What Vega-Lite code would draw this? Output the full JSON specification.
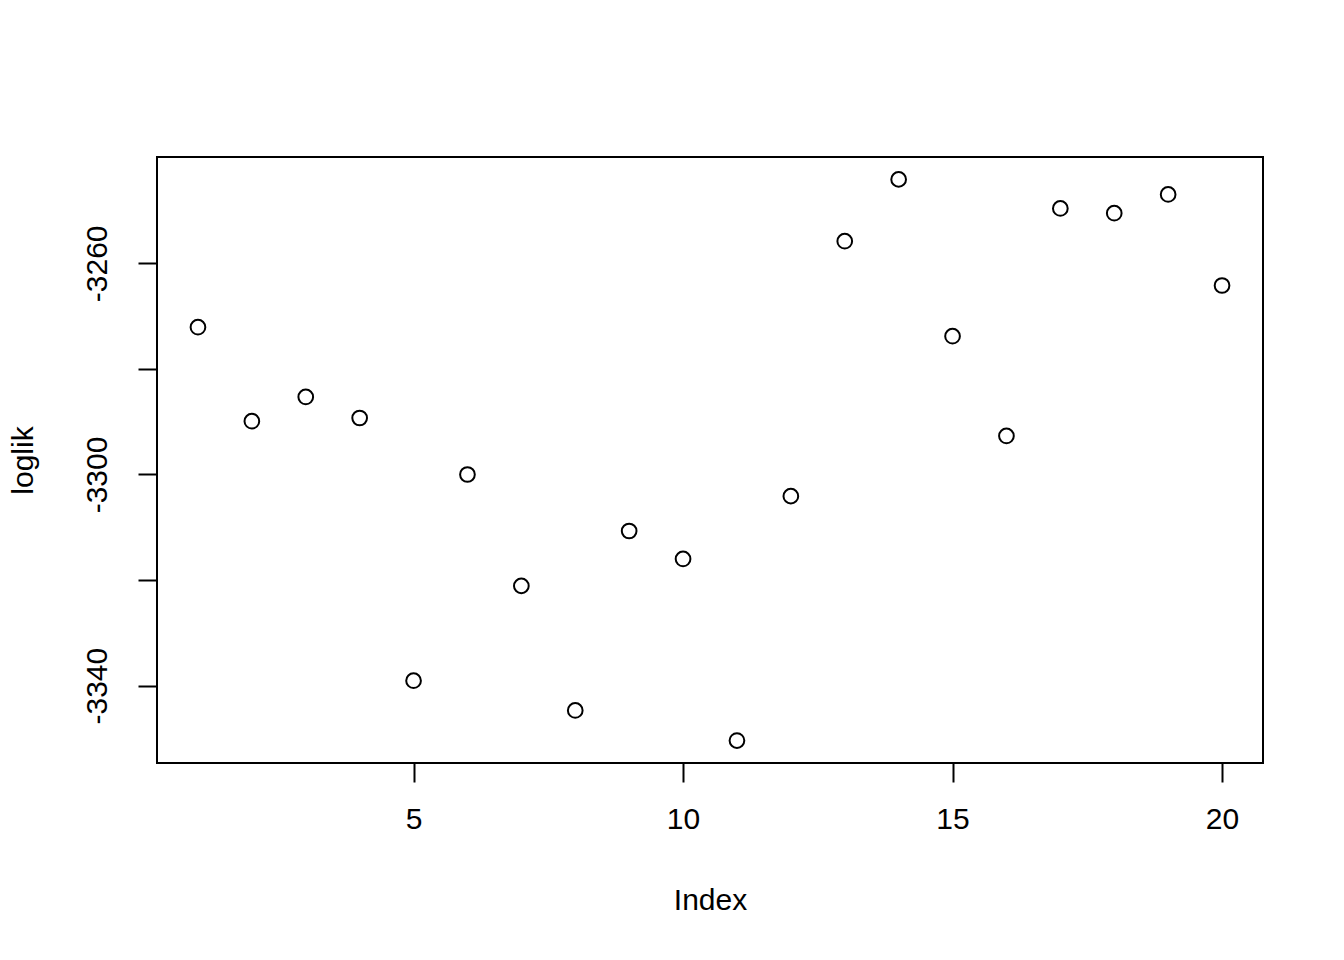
{
  "$schema": "https://vega.github.io/schema/vega-lite/v6.json",
  "autosize": "none",
  "width": 1106,
  "height": 606,
  "padding": {"left": 157, "top": 157, "right": 81, "bottom": 197},
  "background": "white",
  "config": {
    "view": {"stroke": "black", "strokeWidth": 2},
    "font": "Liberation Sans",
    "axis": {
      "domain": false,
      "grid": false,
      "ticks": true,
      "tickColor": "black",
      "tickWidth": 2,
      "tickSize": 19,
      "labelFont": "Liberation Sans",
      "labelFontSize": 30,
      "labelColor": "black",
      "titleFont": "Liberation Sans",
      "titleFontSize": 30,
      "titleFontWeight": "normal",
      "titleColor": "black"
    }
  },
  "data": {
    "values": [
      {"Index": 1, "loglik": -3272.1},
      {"Index": 2, "loglik": -3289.9},
      {"Index": 3, "loglik": -3285.3},
      {"Index": 4, "loglik": -3289.3},
      {"Index": 5, "loglik": -3339.05},
      {"Index": 6, "loglik": -3300.0},
      {"Index": 7, "loglik": -3321.1},
      {"Index": 8, "loglik": -3344.7},
      {"Index": 9, "loglik": -3310.7},
      {"Index": 10, "loglik": -3316.0},
      {"Index": 11, "loglik": -3350.4},
      {"Index": 12, "loglik": -3304.1},
      {"Index": 13, "loglik": -3255.8},
      {"Index": 14, "loglik": -3244.1},
      {"Index": 15, "loglik": -3273.8},
      {"Index": 16, "loglik": -3292.7},
      {"Index": 17, "loglik": -3249.6},
      {"Index": 18, "loglik": -3250.5},
      {"Index": 19, "loglik": -3246.95},
      {"Index": 20, "loglik": -3264.2}
    ]
  },
  "mark": {"type": "point", "shape": "circle", "filled": false, "stroke": "black", "strokeWidth": 2, "size": 216, "opacity": 1},
  "encoding": {
    "x": {
      "field": "Index",
      "type": "quantitative",
      "scale": {"domain": [0.24, 20.76], "nice": false, "zero": false},
      "axis": {
        "values": [5, 10, 15, 20],
        "labelPadding": 22,
        "title": "Index",
        "titleBaseline": "middle",
        "titleY": 137,
        "titleX": 553
      }
    },
    "y": {
      "field": "loglik",
      "type": "quantitative",
      "scale": {"domain": [-3354.65, -3239.86], "nice": false, "zero": false},
      "axis": {
        "values": [-3340, -3320, -3300, -3280, -3260],
        "labelExpr": "(datum.value + 3260) % 40 == 0 ? toString(datum.value) : ''",
        "labelAngle": -90,
        "labelAlign": "center",
        "labelBaseline": "bottom",
        "labelPadding": 26,
        "title": "loglik",
        "titleAngle": -90,
        "titleBaseline": "middle",
        "titleAlign": "center",
        "titleX": -134,
        "titleY": 303
      }
    }
  }
}
